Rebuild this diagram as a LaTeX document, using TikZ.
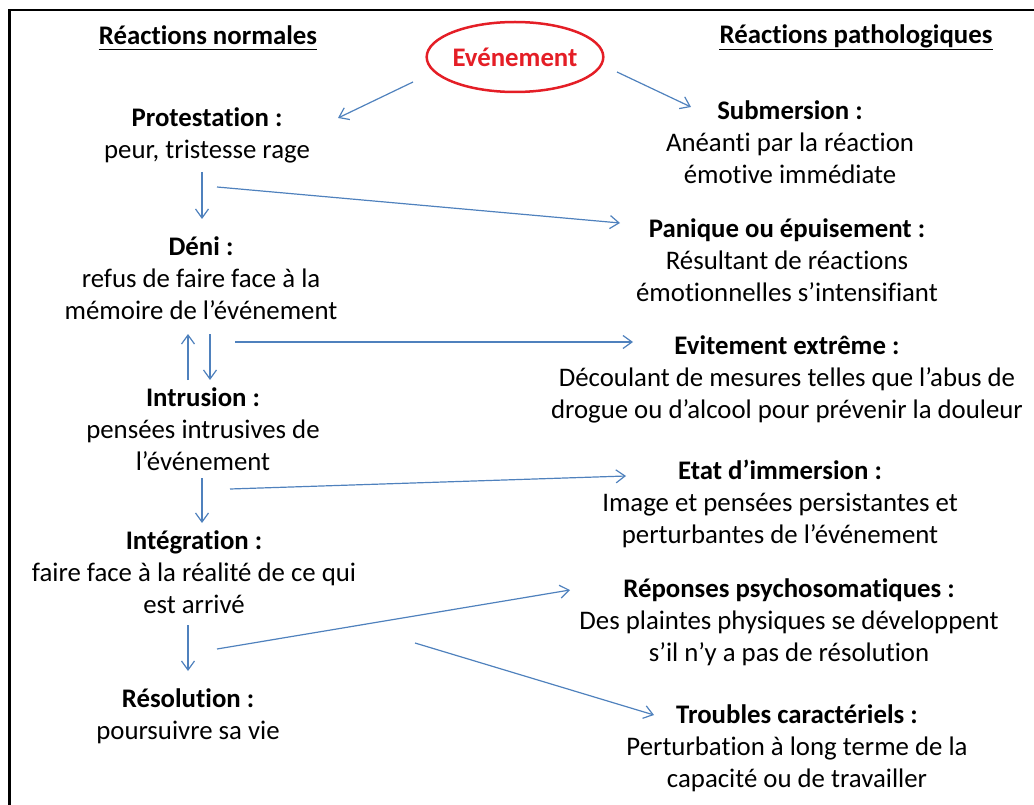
\documentclass[tikz,border=0pt]{standalone}
\usepackage{fontspec}
\setmainfont{Carlito}[RawFeature={-liga;-clig;-dlig;-rlig;-calt}]
\usetikzlibrary{arrows.meta,shapes.geometric}
\definecolor{arr}{RGB}{79,129,189}
\definecolor{evred}{RGB}{228,30,38}
\begin{document}
\begin{tikzpicture}[x=1pt,y=-1pt,
  txt/.style={align=center,font=\fontsize{26.8}{32}\selectfont,inner sep=0pt},
  hd/.style={font=\fontsize{26.8}{32}\selectfont\bfseries,inner sep=0pt,anchor=base},
  uline/.style={line width=1.5pt},
  conn/.style={draw=arr,line width=1.2pt,-{Straight Barb[length=9pt,width=13pt,line width=1.2pt]}},
  frame/.style={line width=2.5pt,draw=black}]
\useasboundingbox (0,0) rectangle (1034,805);
\draw[frame] (9.5,805) -- (9.5,10) -- (1034,10);

% headings
\node[hd] (hn) at (208,45) {Réactions normales};
\node[hd] (hp) at (856,44) {Réactions pathologiques};
\draw[uline] (hn.base west |- 0,49.5) -- (hn.base east |- 0,49.5);
\draw[uline] (hp.base west |- 0,49.5) -- (hp.base east |- 0,49.5);

% event
\node[ellipse,draw=evred,line width=2.5pt,minimum width=170pt,minimum height=70pt,
      text=evred,font=\fontsize{26.8}{32}\selectfont\bfseries,inner sep=0pt] (ev) at (515,57) {Evénement};

% left column
\node[txt] (prot) at (207,135.5) {\textbf{Protestation :}\\peur, tristesse rage};
\node[txt] (deni) at (201,277.7) {\textbf{Déni :}\\refus de faire face à la\\mémoire de l’événement};
\node[txt] (intr) at (203,429) {\textbf{Intrusion :}\\pensées intrusives de\\l’événement};
\node[txt] (integ) at (194,572) {\textbf{Intégration :}\\faire face à la réalité de ce qui\\est arrivé};
\node[txt] (reso) at (188,716) {\textbf{Résolution :}\\poursuivre sa vie};

% right column
\node[txt] (subm) at (790,142) {\textbf{Submersion :}\\Anéanti par la réaction\\émotive immédiate};
\node[txt] (pani) at (787,260) {\textbf{Panique ou épuisement :}\\Résultant de réactions\\émotionnelles s’intensifiant};
\node[txt] (evit) at (787,379) {\textbf{Evitement extrême :}\\Découlant de mesures telles que l’abus de\\drogue ou d’alcool pour prévenir la douleur};
\node[txt] (etat) at (780,504) {\textbf{Etat d’immersion :}\\Image et pensées persistantes et\\perturbantes de l’événement};
\node[txt] (repo) at (789,622) {\textbf{Réponses psychosomatiques :}\\Des plaintes physiques se développent\\s’il n’y a pas de résolution};
\node[txt] (trou) at (797,748) {\textbf{Troubles caractériels :}\\Perturbation à long terme de la\\capacité ou de travailler};

% connector end points
\coordinate (a1s) at (413,82);  \coordinate (a1e) at (338,118);
\coordinate (a2s) at (617,72);  \coordinate (a2e) at (691,107);
\coordinate (a3s) at (202,172); \coordinate (a3e) at (202,219);
\coordinate (a4s) at (217,187); \coordinate (a4e) at (620,223);
\coordinate (a5s) at (188,380); \coordinate (a5e) at (188,334);
\coordinate (a6s) at (210,334); \coordinate (a6e) at (210,380);
\coordinate (a7s) at (235,342); \coordinate (a7e) at (633,342);
\coordinate (a8s) at (202,478); \coordinate (a8e) at (202,523);
\coordinate (a9s) at (230,489); \coordinate (a9e) at (626,476);
\coordinate (a10s) at (188,625); \coordinate (a10e) at (188,671);
\coordinate (a11s) at (217,649); \coordinate (a11e) at (570,590);
\coordinate (a12s) at (415,643); \coordinate (a12e) at (654,715);

\draw[conn] (a1s) -- (a1e);
\draw[conn] (a2s) -- (a2e);
\draw[conn] (a3s) -- (a3e);
\draw[conn] (a4s) -- (a4e);
\draw[conn] (a5s) -- (a5e);
\draw[conn] (a6s) -- (a6e);
\draw[conn] (a7s) -- (a7e);
\draw[conn] (a8s) -- (a8e);
\draw[conn] (a9s) -- (a9e);
\draw[conn] (a10s) -- (a10e);
\draw[conn] (a11s) -- (a11e);
\draw[conn] (a12s) -- (a12e);
\end{tikzpicture}
\end{document}
